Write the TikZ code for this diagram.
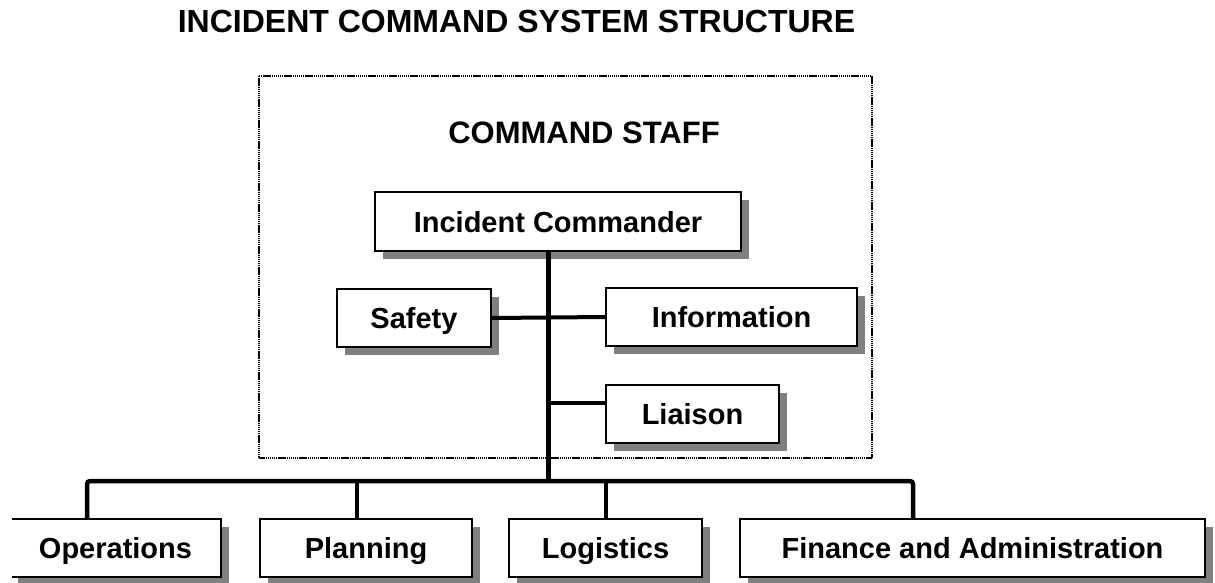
\documentclass[tikz,border=0pt]{standalone}
\usepackage{fontspec}
\setmainfont{Liberation Sans}
\usetikzlibrary{shadows}
\tikzset{
  unitbox/.style={draw=black, line width=2pt, fill=white, inner sep=0pt,
    text height=21pt, text depth=0pt,
    font=\fontsize{29}{32}\selectfont\bfseries,
    drop shadow={shadow xshift=8pt, shadow yshift=-8pt, fill=black!50, opacity=1}},
  heavy/.style={line width=5pt},
  medium/.style={line width=4pt},
  framebox/.style={draw=black, line width=2pt, dash pattern=on 1.4pt off 0.7pt},
}
\begin{document}
\begin{tikzpicture}[x=1pt,y=-1pt]
\useasboundingbox (0,0) rectangle (1215,582);
% title
\node[anchor=base, inner sep=0pt, font=\fontsize{32}{36}\selectfont\bfseries] (title) at (516.5,32) {INCIDENT COMMAND SYSTEM STRUCTURE};
% frame
\draw[framebox] (259,76) rectangle (872,458);
\node[anchor=base, inner sep=0pt, font=\fontsize{31}{34}\selectfont\bfseries] (staff) at (584,143) {COMMAND STAFF};
% boxes
\node[unitbox, minimum width=366pt, minimum height=59pt] (ic) at (558,221.5) {Incident Commander};
\node[unitbox, minimum width=154pt, minimum height=58pt] (safety) at (414,318) {Safety};
\node[unitbox, minimum width=251pt, minimum height=58pt] (info) at (731.5,317) {Information};
\node[unitbox, minimum width=173pt, minimum height=58pt] (liaison) at (692.5,414) {Liaison};
\begin{scope}
\clip (12,500) rectangle (260,582);
\node[unitbox, minimum width=211pt, minimum height=58pt] (ops) at (115.5,548) {Operations};
\end{scope}
\node[unitbox, minimum width=212pt, minimum height=58pt] (plan) at (366,548) {Planning};
\node[unitbox, minimum width=193pt, minimum height=58pt] (log) at (605.5,548) {Logistics};
\node[unitbox, minimum width=465pt, minimum height=58pt] (fin) at (972.5,548) {Finance and Administration};
% connector coordinates
\coordinate (trunk) at (548,481);
\coordinate (busL) at (87,481);
\coordinate (busP) at (357,481);
\coordinate (busG) at (606,481);
\coordinate (busR) at (913,481);
\coordinate (liaisonJ) at (548,403);
% connectors
\draw[medium] (safety.east) -- (info.west);
\draw[medium] (liaisonJ) -- (liaisonJ -| liaison.west);
\draw[heavy] (ic.south -| trunk) -- (trunk);
\draw[line width=4.5pt, rounded corners=3pt] (ops.north -| busL) -- (busL) -- (busR) -- (fin.north -| busR);
\draw[line width=4.5pt] (busP) -- (plan.north -| busP);
\draw[line width=4.5pt] (busG) -- (log.north -| busG);
\end{tikzpicture}
\end{document}
